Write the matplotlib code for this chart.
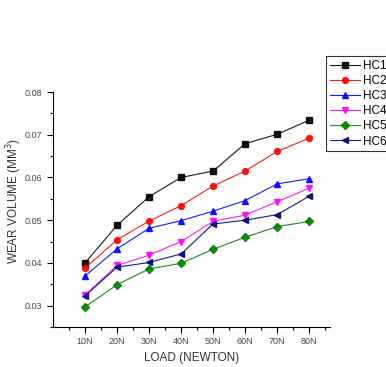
import matplotlib
matplotlib.use("Agg")
import matplotlib.pyplot as plt

plt.rcParams['font.family'] = ['Liberation Sans', 'DejaVu Sans']

# load in newton
loads = [10, 20, 30, 40, 50, 60, 70, 80]
load_labels = ["10N", "20N", "30N", "40N", "50N", "60N", "70N", "80N"]

# wear volume (mm^3) per sample
hc1 = [0.0400, 0.0488, 0.0555, 0.0600, 0.0615, 0.0679, 0.0701, 0.0734]
hc2 = [0.0388, 0.0454, 0.0498, 0.0534, 0.0580, 0.0615, 0.0661, 0.0692]
hc3 = [0.0369, 0.0433, 0.0481, 0.0499, 0.0521, 0.0546, 0.0585, 0.0597]
hc4 = [0.0325, 0.0394, 0.0418, 0.0450, 0.0497, 0.0512, 0.0543, 0.0575]
hc5 = [0.0297, 0.0349, 0.0386, 0.0399, 0.0432, 0.0460, 0.0485, 0.0497]
hc6 = [0.0323, 0.0390, 0.0401, 0.0421, 0.0491, 0.0500, 0.0513, 0.0556]

names = ["HC1", "HC2", "HC3", "HC4", "HC5", "HC6"]
colors = ["black", "#ff0000", "#0000ff", "#ff00ff", "#008000", "#000080"]
markers = ["s", "o", "^", "v", "D", "<"]

fig = plt.figure(figsize=(3.86, 3.67), dpi=100)
ax = fig.add_axes([0.1373, 0.109, 0.7176, 0.6403])

for vals, name, c, m in zip([hc1, hc2, hc3, hc4, hc5, hc6], names, colors, markers):
    ms = 3.6 if m == "D" else 4.2
    ax.plot(loads, vals, color=c, lw=0.8, marker=m, markersize=ms,
            label=name, alpha=0.9)

ax.set_xlim(0, 86.5)
ax.set_ylim(0.025, 0.08)
ax.set_xticks(loads)
ax.set_xticklabels(load_labels)
ax.set_xticks([5, 15, 25, 35, 45, 55, 65, 75, 85], minor=True)
ax.set_yticks([0.03, 0.04, 0.05, 0.06, 0.07, 0.08])
ax.set_yticks([0.025, 0.035, 0.045, 0.055, 0.065, 0.075], minor=True)

ax.spines['top'].set_visible(False)
ax.spines['right'].set_visible(False)
ax.tick_params(which='major', direction='out', length=4, width=0.8,
               labelsize=6.5, labelcolor='#444444')
ax.tick_params(which='minor', direction='out', length=2.5, width=0.8)

ax.set_xlabel("LOAD (NEWTON)", fontsize=8.5, color='#333333', labelpad=4)
ax.set_ylabel("WEAR VOLUME (MM$^3$)", fontsize=8.5, color='#333333')
ax.yaxis.set_label_coords(-0.105, 0.536)

leg = fig.legend(loc='upper left', bbox_to_anchor=(0.845, 0.847),
                 fontsize=8.5, frameon=True, fancybox=False, handlelength=2.6,
                 handletextpad=0.25, labelspacing=0.27, borderpad=0.3,
                 borderaxespad=0)
leg.get_frame().set_edgecolor('black')
leg.get_frame().set_linewidth(0.8)

fig.savefig("out.png", dpi=100)
